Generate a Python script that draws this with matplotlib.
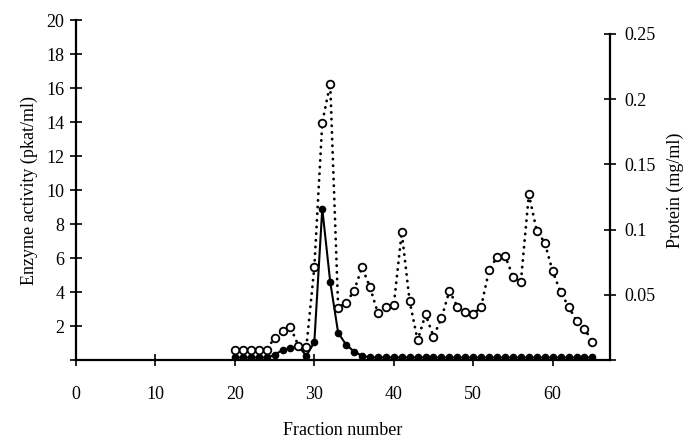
import matplotlib.pyplot as plt
import numpy as np

plt.rcParams["font.family"] = ["Liberation Serif", "DejaVu Serif"]

# fraction numbers
fractions = list(range(20, 66))

# enzyme activity (pkat/ml), closed circles, left axis
enzyme = [0.15, 0.15, 0.15, 0.15, 0.15, 0.3, 0.6, 0.7, 0.8, 0.25,
          1.05, 8.9, 4.6, 1.6, 0.9, 0.5, 0.25, 0.15, 0.15, 0.15,
          0.15, 0.15, 0.15, 0.15, 0.15, 0.15, 0.15, 0.15, 0.15, 0.15,
          0.15, 0.15, 0.15, 0.15, 0.15, 0.15, 0.15, 0.15, 0.15, 0.15,
          0.15, 0.15, 0.15, 0.15, 0.15, 0.15]

# protein (mg/ml), open circles, right axis
protein = [0.008, 0.008, 0.008, 0.008, 0.008, 0.017, 0.022, 0.025, 0.011, 0.010,
           0.071, 0.182, 0.212, 0.040, 0.044, 0.053, 0.071, 0.056, 0.036, 0.041,
           0.042, 0.098, 0.045, 0.015, 0.035, 0.018, 0.032, 0.053, 0.041, 0.037,
           0.035, 0.041, 0.069, 0.079, 0.080, 0.064, 0.060, 0.127, 0.099, 0.090,
           0.068, 0.052, 0.041, 0.030, 0.024, 0.014]

left_ticks = [2, 4, 6, 8, 10, 12, 14, 16, 18, 20]
right_ticks = [0.05, 0.1, 0.15, 0.2, 0.25]
right_labels = ["0.05", "0.1", "0.15", "0.2", "0.25"]
x_ticks = [0, 10, 20, 30, 40, 50, 60]

fig = plt.figure(figsize=(6.97, 4.45), dpi=100)
ax = fig.add_axes([0.109, 0.191, 0.766, 0.764])
ax2 = ax.twinx()

ax.plot(fractions, enzyme, "-", color="black", lw=1.5,
        marker="o", ms=4.5, mfc="black", mec="black", zorder=3)
ax2.plot(fractions, protein, color="black", lw=2.0,
         ls=(0, (0.1, 2.3)), dash_capstyle="round",
         marker="o", ms=5.5, mfc="white", mec="black", mew=1.3, zorder=3)

ax.set_xlim(0, 67.2)
ax.set_ylim(0, 20)
ax2.set_ylim(0, 0.2607)

for a in (ax, ax2):
    a.spines["top"].set_visible(False)
ax.spines["right"].set_visible(False)
ax2.spines["left"].set_visible(False)
ax2.spines["bottom"].set_visible(False)
ax2.spines["right"].set_bounds(0, 0.25)
for s in ("left", "bottom"):
    ax.spines[s].set_linewidth(1.6)
ax2.spines["right"].set_linewidth(1.6)

ax.set_xticks(x_ticks)
ax.set_yticks([0] + left_ticks)
ax.set_yticklabels([""] + [str(t) for t in left_ticks])
ax2.set_yticks([0] + right_ticks)
ax2.set_yticklabels([""] + right_labels)

ax.tick_params(axis="x", direction="inout", length=9, width=1.2, pad=14, labelsize=13)
ax.tick_params(axis="y", direction="inout", length=9, width=1.2, pad=4, labelsize=13)
ax2.tick_params(axis="y", direction="inout", length=9, width=1.2, pad=6, labelsize=13)

ax.set_xlabel("Fraction number", fontsize=13, labelpad=14)
ax.set_ylabel("Enzyme activity (pkat/ml)", fontsize=13, labelpad=6)
ax2.set_ylabel("Protein (mg/ml)", fontsize=13, labelpad=8)

fig.savefig("out.png", dpi=100)
